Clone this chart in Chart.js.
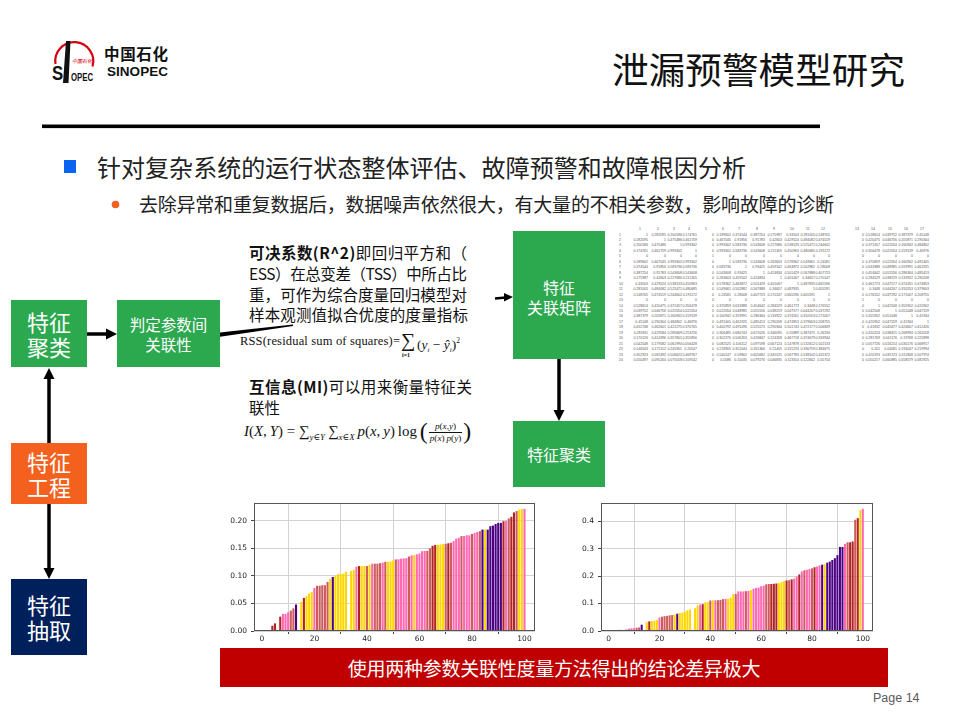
<!DOCTYPE html>
<html lang="zh-CN">
<head>
<meta charset="utf-8">
<title>泄漏预警模型研究</title>
<script src="https://cdn.jsdelivr.net/npm/chart.js@4.4.1/dist/chart.umd.min.js"></script>
<style>
html,body{margin:0;padding:0;background:#fff;}
#slide{position:relative;width:960px;height:720px;overflow:hidden;background:#fff;font-family:"Noto Sans CJK SC","Noto Sans",sans-serif;color:#111;}
.t{position:absolute;white-space:nowrap;}
.box{position:absolute;color:#fff;display:flex;flex-direction:column;align-items:center;justify-content:center;text-align:center;font-family:"Noto Sans CJK SC",sans-serif;}
.green{background:#2ca84f;}
.serif{font-family:"Liberation Serif","DejaVu Serif",serif;}
#matrix{position:absolute;left:614px;top:224px;width:636px;height:300px;transform:scale(0.5);transform-origin:0 0;font-family:"Liberation Sans",sans-serif;font-size:7px;color:#5a5a5a;overflow:hidden;}
#matrix span{position:absolute;white-space:nowrap;line-height:8px;}
.chartbox{position:absolute;}
</style>
</head>
<body>
<div id="slide">

<!-- logo and decorations -->
<svg width="960" height="720" style="position:absolute;left:0;top:0">
  <path d="M 55.5 64 A 19 19 0 1 1 92.5 66.5" fill="none" stroke="#d7000f" stroke-width="2.2"/>
  <polygon points="66,41 70.5,41 68.5,83 63,83" fill="#111"/>
  <rect x="42" y="124.5" width="778" height="3.6" fill="#000"/>
  <rect x="64" y="160" width="12" height="13" fill="#0a64f0"/>
  <circle cx="115.5" cy="204.5" r="3.8" fill="#f06020"/>
</svg>
<div class="t" style="left:52px;top:62px;font-family:'Liberation Sans',sans-serif;font-weight:700;font-size:21px;line-height:22px;color:#111;transform:scaleX(0.8);transform-origin:0 0;">S</div>
<div class="t" style="left:71px;top:73px;font-family:'Liberation Sans',sans-serif;font-weight:700;font-size:10px;line-height:10px;color:#111;transform:scaleX(0.78);transform-origin:0 0;">OPEC</div>
<div class="t" style="left:72px;top:58px;font-size:5px;line-height:6px;color:#d7000f;font-style:italic;">中国石化</div>
<div class="t" id="logoCn" style="left:104px;top:44px;font-size:15.5px;line-height:19px;font-weight:700;color:#111;">中国石化</div>
<div class="t" id="logoEn" style="left:107px;top:64px;font-family:'Liberation Sans',sans-serif;font-size:13.5px;line-height:15px;font-weight:700;color:#111;">SINOPEC</div>

<!-- title -->
<div class="t" id="title" style="left:612px;top:47px;font-size:36.5px;line-height:44px;color:#111;">泄漏预警模型研究</div>

<!-- bullets -->
<div class="t" id="b1" style="left:97px;top:152px;font-size:24px;line-height:30px;color:#222;">针对复杂系统的运行状态整体评估、故障预警和故障根因分析</div>
<div class="t" id="b2" style="left:139px;top:192px;font-size:19px;line-height:24px;color:#222;">去除异常和重复数据后，数据噪声依然很大，有大量的不相关参数，影响故障的诊断</div>

<!-- flow boxes -->
<div class="box green" style="left:11px;top:300px;width:76px;height:67px;font-size:22px;line-height:25px;"><div>特征<br>聚类</div></div>
<div class="box green" style="left:117px;top:300px;width:103px;height:67px;font-size:15.5px;line-height:20px;"><div>判定参数间<br>关联性</div></div>
<div class="box" style="left:11px;top:443px;width:76px;height:61px;background:#f4601e;font-size:22px;line-height:25px;"><div>特征<br>工程</div></div>
<div class="box" style="left:11px;top:579px;width:76px;height:76px;background:#00205c;font-size:22px;line-height:25px;"><div>特征<br>抽取</div></div>
<div class="box green" style="left:513px;top:231px;width:92px;height:128px;font-size:16px;line-height:20px;padding-top:3px;box-sizing:border-box;"><div>特征<br>关联矩阵</div></div>
<div class="box green" style="left:513px;top:421px;width:92px;height:66px;font-size:16px;line-height:20px;"><div>特征聚类</div></div>

<!-- arrows -->
<svg width="960" height="720" style="position:absolute;left:0;top:0">
  <line x1="87" y1="334" x2="108" y2="334" stroke="#000" stroke-width="3.5"/>
  <polygon points="106,328.5 117,334 106,339.5" fill="#000"/>
  <line x1="49" y1="443" x2="49" y2="377" stroke="#000" stroke-width="3.5"/>
  <polygon points="43.5,379 49,368 54.5,379" fill="#000"/>
  <line x1="49" y1="504" x2="49" y2="570" stroke="#000" stroke-width="3.5"/>
  <polygon points="43.5,568 49,579 54.5,568" fill="#000"/>
  <line x1="559" y1="359" x2="559" y2="412" stroke="#000" stroke-width="3.5"/>
  <polygon points="553.5,410 559,421 564.5,410" fill="#000"/>
  <polygon points="220,332.5 293,324.6 293,326 220,336.8" fill="#000"/>
  <line x1="495" y1="298.5" x2="506" y2="297.5" stroke="#000" stroke-width="2.6"/>
  <polygon points="504,293 513,297 504,301.5" fill="#000"/>
</svg>

<!-- explanation text -->
<div class="t fitline" data-w="218" style="left:249px;top:242px;font-size:15.5px;line-height:20px;"><b>可决系数(R^2)</b>即回归平方和（</div>
<div class="t fitline" data-w="218" style="left:249px;top:263px;font-size:15.5px;line-height:20px;">ESS）在总变差（TSS）中所占比</div>
<div class="t fitline" data-w="218" style="left:249px;top:284px;font-size:15.5px;line-height:20px;">重，可作为综合度量回归模型对</div>
<div class="t fitline" data-w="219" style="left:249px;top:304px;font-size:15.5px;line-height:20px;">样本观测值拟合优度的度量指标</div>

<div class="t serif fitline" data-w="160" style="left:240px;top:333px;font-size:12.5px;line-height:16px;color:#111;">RSS(residual sum of squares)=</div>
<div class="t serif" style="left:401px;top:329px;font-size:20px;line-height:22px;">∑</div>
<div class="t serif" style="left:405px;top:318px;font-size:6.5px;line-height:7px;font-style:italic;">n</div>
<div class="t serif" style="left:402px;top:352px;font-size:6px;line-height:7px;font-weight:700;">i=1</div>
<div class="t serif" style="left:417px;top:332px;font-size:13.5px;line-height:17px;">(<i>y</i><sub style="font-size:7px"><i>i</i></sub> − <i>ŷ</i><sub style="font-size:7px"><i>i</i></sub>)<sup style="font-size:7.5px">2</sup></div>

<div class="t fitline" data-w="223" style="left:249px;top:376px;font-size:15.5px;line-height:20px;"><b>互信息(MI)</b>可以用来衡量特征关</div>
<div class="t" style="left:249px;top:397px;font-size:15.5px;line-height:20px;">联性</div>

<div class="t serif" id="miFormula" style="left:244px;top:420px;height:24px;display:flex;align-items:center;font-size:13px;color:#111;">
  <span><i>I</i>(<i>X</i>,&thinsp;<i>Y</i>)&nbsp;=&nbsp;∑<sub style="font-size:0.6em"><i>y</i>∈<i>Y</i></sub>&thinsp;∑<sub style="font-size:0.6em"><i>x</i>∈<i>X</i></sub>&thinsp;<i>p</i>(<i>x</i>,&thinsp;<i>y</i>)&thinsp;log&thinsp;</span>
  <span style="font-size:1.6em;line-height:1;">(</span>
  <span style="display:inline-flex;flex-direction:column;align-items:center;font-size:0.62em;line-height:1.1;padding:0 1px;">
    <span><i>p</i>(<i>x</i>,<i>y</i>)</span>
    <span style="border-top:0.8px solid #111;padding:0 1px;"><i>p</i>(<i>x</i>)&thinsp;<i>p</i>(<i>y</i>)</span>
  </span>
  <span style="font-size:1.6em;line-height:1;">)</span>
</div>

<!-- correlation matrix (spreadsheet) -->
<div id="matrix"></div>

<!-- charts -->
<div class="chartbox" style="left:220px;top:498px;width:320px;height:150px;"><canvas id="chartR2" width="320" height="150"></canvas></div>
<div class="chartbox" style="left:566px;top:498px;width:312px;height:150px;"><canvas id="chartMI" width="312" height="150"></canvas></div>

<!-- banner -->
<div class="box" style="left:220px;top:648px;width:668px;height:39px;background:#c00000;font-size:19px;line-height:24px;"><div id="bannerText">使用两种参数关联性度量方法得出的结论差异极大</div></div>
<div class="t" style="left:873px;top:690px;font-family:'Liberation Sans',sans-serif;font-size:12.5px;line-height:16px;color:#595959;">Page 14</div>

</div>

<script>
// ================= DATA =================
const barIndex = Array.from({length: 101}, (_, i) => i);   // parameter index 0..100
const xTicks = [0, 20, 40, 60, 80, 100];
const r2Ticks = [0, 0.05, 0.10, 0.15, 0.20];
const miTicks = [0, 0.1, 0.2, 0.3, 0.4];

// left chart: R^2 based association (sorted)
const r2Values = [
  0,0,0,0,0.0096,0.0138,0,0.026,0.031,0.031,
  0.034,0.037,0.041,0.048,0,0.053,0.060,0.063,0.068,0.071,
  0.078,0.082,0.082,0.083,0.083,0.089,0.095,0.098,0.0997,0.103,
  0.103,0.104,0.1075,0,0.109,0.111,0.1165,0.1177,0.1177,0.1177,
  0.1177,0.120,0.122,0.122,0.122,0.123,0.124,0.1255,0.1255,0.126,
  0.128,0.1297,0.130,0.131,0.1315,0.132,0.135,0.137,0.1375,0.139,
  0.1405,0.1447,0.145,0.1453,0.150,0.1544,0.156,0.156,0.1568,0.158,
  0.158,0.159,0.160,0.163,0.1676,0.169,0.172,0.172,0.1735,0.1735,
  0.176,0.178,0.1796,0.181,0.1838,0.1838,0.1838,0.190,0.191,0.194,
  0.196,0.196,0.199,0.1994,0.204,0.207,0.215,0.2174,0.220,0.221,
  0.2216
];
// right chart: mutual information based association (sorted)
const miValues = [
  0,0,0,0,0.004,0.004,0,0.005,0.0085,0.010,
  0.010,0.012,0.013,0.023,0,0.032,0.035,0.036,0.038,0.040,
  0.049,0.052,0.054,0.055,0.057,0.058,0.060,0.063,0.065,0.067,
  0.070,0.0756,0.078,0,0.083,0.093,0.096,0.0976,0.104,0.105,
  0.111,0.112,0.112,0.112,0.113,0.116,0.117,0.117,0.121,0.134,
  0.135,0.144,0.144,0.144,0.145,0.146,0.149,0.154,0.157,0.158,
  0.163,0.165,0.170,0.171,0.171,0.172,0.173,0.174,0.178,0.182,
  0.184,0.185,0.188,0.191,0.198,0.206,0.217,0.221,0.223,0.226,
  0.228,0.232,0.235,0.239,0.2415,0.243,0.249,0.2525,0.2585,0.265,
  0.276,0.306,0.306,0.317,0.323,0.323,0.326,0.405,0.411,0.440,
  0.445
];
// bar colour group codes (F firebrick, P hotpink, R indianred, Y gold, I indigo)
const r2Colors = ["RRRRFFRFPP","PRRIRYFYYY","PRRRRRYIYY","YYYRYYPFYY","RYPRRRPRYY",
                  "YRPPPPRPYP","PPPRRFFYYY","RFRPPPRPPP","RPPRIYIIII","IIFPRFFRYY","P"].join("").split("");
const miColors = ["RRRRFFRFPP","PRRIRYFYYY","PRRRRRYIYY","YYYRYYPFYY","RYPRRRPYYY",
                  "RPPPRPYPPP","PPRRFFFYYY","FRFPPFPRPP","RFPPIYIIII","IIIPRFFRFY","P"].join("").split("");
const palette = {F: "#b22222", P: "#ff69b4", R: "#cd5c5c", Y: "#ffd700", I: "#4b0082"};

// feature correlation matrix shown as a spreadsheet dump
const matrixHeader = ["1","2","3","4","5","6","7","8","9","10","11","12","13","14","15","16","17"];
const matrixRows = [
 "1 0.282095 0.200186 0.174761 0 0.189602 0.374544 0.387254 0.175987 0.33503 0.281005 0.148705 0 0.528614 0.039752 0.387379 0.45148",
 "0.282095 1 0.475486 0.461759 0 0.467045 0.91856 0.91783 0.42603 0.429524 0.484082 0.474519 0 0.420475 0.046756 0.205871 0.290304",
 "0.200186 0.475486 1 0.993302 0 0.993302 0.583736 0.543608 0.227686 0.538133 0.525471 0.244602 0 0.371457 0.022054 0.160942 0.484802",
 "0.174761 0.461759 0.993302 1 0 0.993302 0.583736 0.543608 0.211305 0.450963 0.480685 0.191172 0 0.356478 0.022054 0.159139 0.46976",
 "0 0 0 0 1 0 0 0 0 0 0 0 0 0 0 0 0",
 "0.189602 0.467045 0.993302 0.993302 0 1 0.583736 0.543608 0.263603 0.578362 0.549661 0.24581 0 0.370859 0.022054 0.160942 0.491405",
 "0.374544 0.91856 0.583736 0.583736 0 0.583736 1 0.93425 0.459102 0.463872 0.502882 0.28008 0 0.631888 0.048985 0.319991 0.461925",
 "0.387254 0.91783 0.543608 0.543608 0 0.543608 0.93425 1 0.424834 0.501429 0.567888 0.407723 0 0.454642 0.055556 0.286364 0.485413",
 "0.175987 0.42603 0.227686 0.211305 0 0.263603 0.459102 0.424834 1 0.401067 0.34657 0.170147 0 0.284529 0.038219 0.133922 0.290208",
 "0.33503 0.429524 0.538133 0.450963 0 0.578362 0.463872 0.501429 0.401067 1 0.487835 0.665596 0 0.461773 0.047577 0.374261 0.474853",
 "0.281005 0.484082 0.525471 0.480685 0 0.549661 0.502882 0.567888 0.34657 0.487835 1 0.405591 0 0.3448 0.044207 0.310553 0.379603",
 "0.148705 0.474519 0.244602 0.191172 0 0.24581 0.28008 0.407723 0.170147 0.665596 0.405591 1 0 0.176552 0.037292 0.171007 0.208755",
 "0 0 0 0 0 0 0 0 0 0 0 0 1 0 0 0 0",
 "0.528614 0.420475 0.371457 0.356478 0 0.370859 0.631888 0.454642 0.284529 0.461773 0.3448 0.176552 0 1 0.042508 0.355902 0.420902",
 "0.039752 0.046756 0.022054 0.022054 0 0.022054 0.048985 0.055556 0.038219 0.047577 0.044207 0.037292 0 0.042508 1 0.051048 0.047159",
 "0.387379 0.205871 0.160942 0.159139 0 0.160942 0.319991 0.286364 0.133922 0.374261 0.310553 0.171007 0 0.355902 0.051048 1 0.41944",
 "0.45148 0.290304 0.484802 0.46976 0 0.491405 0.461925 0.485413 0.290208 0.474853 0.379603 0.208755 0 0.420902 0.047159 0.41944 1",
 "0.452748 0.462601 0.421275 0.370765 0 0.400792 0.491096 0.525573 0.290344 0.501743 0.472177 0.506849 0 0.41832 0.045677 0.424607 0.412426",
 "0.285811 0.429584 0.285669 0.253726 0 0.306485 0.680743 0.672026 0.346095 0.55889 0.387475 0.26194 0 0.410224 0.038415 0.268994 0.262018",
 "0.170126 0.414396 0.357801 0.355856 0 0.302276 0.506263 0.426847 0.224358 0.467718 0.374679 0.333944 0 0.281769 0.041176 0.19768 0.225898",
 "0.042548 0.179582 0.061994 0.056428 0 0.082525 0.106112 0.097598 0.067124 0.147878 0.132612 0.102133 0 0.057726 0.016214 0.030176 0.068917",
 "0.146543 0.175112 0.245901 0.20547 0 0.218905 0.352044 0.261366 0.21455 0.315233 0.336759 0.384675 0 0.201 0.04081 0.194047 0.219994",
 "0.352923 0.582492 0.506622 0.469767 0 0.540147 0.59802 0.605682 0.345525 0.567783 0.538102 0.431372 0 0.420193 0.035723 0.311808 0.507974",
 "0.050497 0.095264 0.075018 0.109542 0 0.0586 0.10035 0.079276 0.046835 0.113314 0.122662 0.05754 0 0.050217 0.060885 0.058579 0.082925"
];

// ================= TEXT FITTING =================
function fitSpacing(el, target) {
  el.style.letterSpacing = "0px";
  const w = el.getBoundingClientRect().width;
  const n = [...el.textContent.trim()].length;
  if (n > 1) el.style.letterSpacing = ((target - w) / (n - 1)) + "px";
}
document.querySelectorAll(".fitline").forEach(el => fitSpacing(el, +el.dataset.w));
fitSpacing(document.getElementById("title"), 293);
fitSpacing(document.getElementById("b1"), 649);
fitSpacing(document.getElementById("b2"), 695);
fitSpacing(document.getElementById("logoCn"), 64);
fitSpacing(document.getElementById("logoEn"), 61);
fitSpacing(document.getElementById("bannerText"), 413);
(function () {
  const el = document.getElementById("miFormula");
  const w = el.getBoundingClientRect().width;
  el.style.fontSize = (13 * 228 / w) + "px";
})();

// ================= MATRIX =================
(function () {
  const m = document.getElementById("matrix");
  const colCenters = [641,659,675,690,707,724,740,758,775,792,808,823,857,873,890,906,922];
  const ox = 614, oy = 224, S = 2;
  function put(text, x, cy, alignRight) {
    const s = document.createElement("span");
    s.textContent = text;
    if (alignRight) { s.style.right = ((ox + 318) - x) * S + "px"; }
    else { s.style.left = (x - ox) * S + "px"; }
    s.style.top = (cy - oy) * S - 4 + "px";
    m.appendChild(s);
  }
  matrixHeader.forEach((h, j) => {
    const s = document.createElement("span");
    s.textContent = h;
    s.style.left = (colCenters[j] - ox) * S - 4 + "px";
    s.style.top = (229 - oy) * S - 4 + "px";
    m.appendChild(s);
  });
  matrixRows.forEach((row, k) => {
    const cy = 234.3 + k * 5.46;
    put(String(k + 1), 619, cy, false);
    row.split(" ").forEach((v, j) => put(v, colCenters[j] + 7, cy, true));
  });
})();

// ================= CHARTS =================
Chart.defaults.font.family = "'DejaVu Sans', sans-serif";
const framePlugin = {
  id: "frame",
  afterDraw(chart) {
    const {ctx, chartArea: a} = chart;
    ctx.save();
    ctx.strokeStyle = "#555";
    ctx.lineWidth = 1;
    ctx.strokeRect(Math.round(a.left) + 0.5, Math.round(a.top) + 0.5,
                   Math.round(a.right - a.left) - 1, Math.round(a.bottom - a.top) - 1);
    ctx.restore();
  }
};
function noPad(s) { s.paddingTop = 0; s.paddingBottom = 0; s.paddingLeft = 0; s.paddingRight = 0; }

function makeChart(id, values, colors, yMax, yTicks, digits, yWidth) {
  return new Chart(document.getElementById(id), {
    type: "bar",
    data: {
      datasets: [{
        data: barIndex.map((x, i) => ({x: x, y: values[i]})),
        backgroundColor: colors.map(c => palette[c]),
        borderWidth: 0,
        barPercentage: 0.8,
        categoryPercentage: 1.0
      }]
    },
    options: {
      responsive: false,
      animation: false,
      events: [],
      layout: {padding: {top: 5, right: 5, left: 0, bottom: 0}},
      plugins: {legend: {display: false}, tooltip: {enabled: false}},
      scales: {
        x: {
          type: "linear", min: -3, max: 104, offset: false,
          afterBuildTicks: s => { s.ticks = xTicks.map(v => ({value: v})); },
          afterFit: s => { s.height = 17; noPad(s); },
          grid: {color: "#d3d3d3", lineWidth: 1, tickColor: "#444", tickLength: 3},
          border: {display: false},
          ticks: {font: {size: 7.5}, color: "#222", padding: 1, maxRotation: 0, autoSkip: false}
        },
        y: {
          type: "linear", min: 0, max: yMax,
          afterBuildTicks: s => { s.ticks = yTicks.map(v => ({value: v})); },
          afterFit: s => { s.width = yWidth; noPad(s); },
          grid: {color: "#d3d3d3", lineWidth: 1, tickColor: "#444", tickLength: 3},
          border: {display: false},
          ticks: {font: {size: 7.5}, color: "#222", padding: 4, autoSkip: false,
                  callback: v => Number(v).toFixed(digits)}
        }
      }
    },
    plugins: [framePlugin]
  });
}
makeChart("chartR2", r2Values, r2Colors, 0.232, r2Ticks, 2, 34);
makeChart("chartMI", miValues, miColors, 0.466, miTicks, 1, 35);
</script>
</body>
</html>
